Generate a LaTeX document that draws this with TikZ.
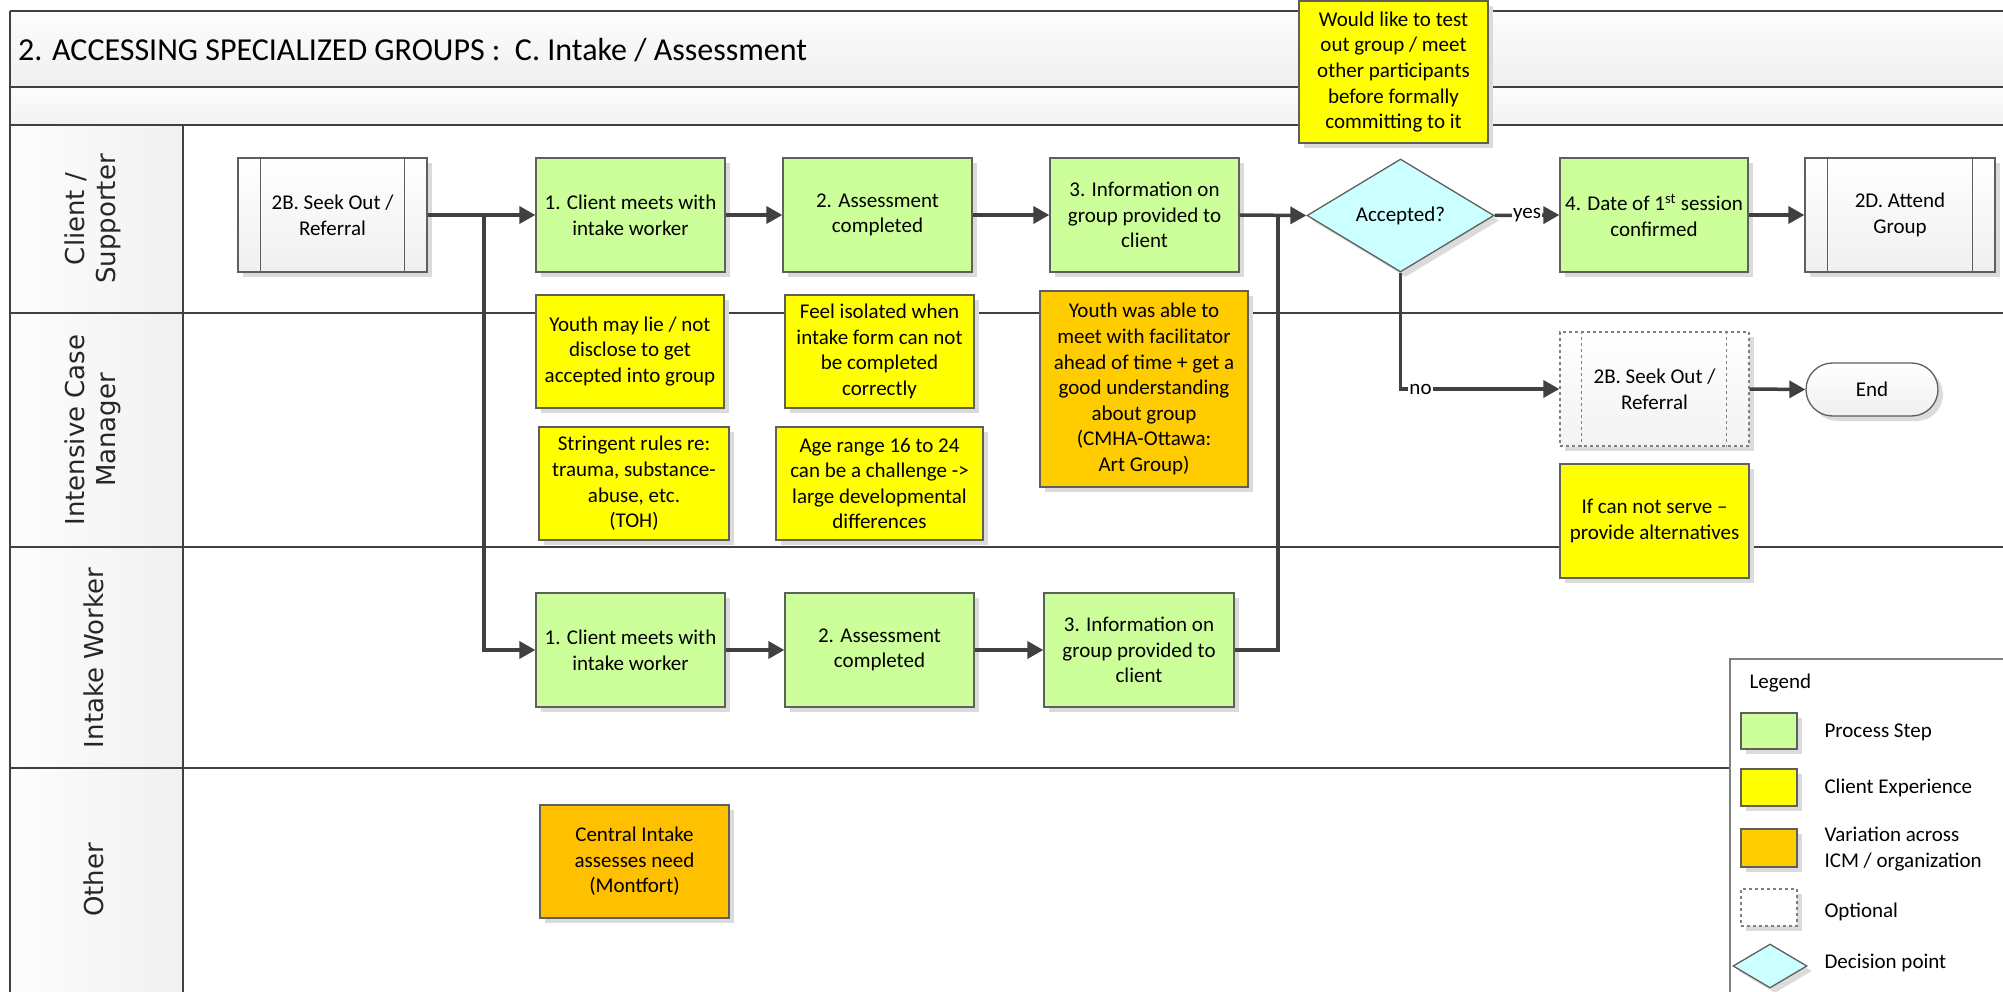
\documentclass[tikz,border=0pt]{standalone}
\usepackage{fontspec}
\setmainfont{Carlito}
\newfontfamily\lanefont{DejaVu Sans}
\usetikzlibrary{arrows.meta,shapes.geometric,shapes.misc,shadows}
\definecolor{lgreen}{HTML}{CCFF99}
\definecolor{yel}{HTML}{FFFF00}
\definecolor{orng}{HTML}{FFCC00}
\definecolor{orng2}{HTML}{FFC000}
\definecolor{cyn}{HTML}{CCFFFF}
\definecolor{lnc}{HTML}{404040}
\definecolor{bdc}{HTML}{5F5F5F}
\tikzset{
  shad/.style={drop shadow={shadow xshift=5pt, shadow yshift=-5pt, fill=black!14, opacity=1}},
  base/.style={draw=bdc, line width=1.3pt, align=center, inner sep=0pt, shad,
    font=\fontsize{21}{25.6}\selectfont, minimum width=189pt, minimum height=114pt},
  proc/.style={base, fill=lgreen},
  note/.style={base, fill=yel},
  vari/.style={base, fill=orng},
  subp/.style={base, top color=white, bottom color=gray!12},
  optp/.style={base, dashed, draw=gray, top color=white, bottom color=gray!10},
  decis/.style={base, diamond, fill=cyn, minimum width=187pt, minimum height=113pt},
  conn/.style={draw=lnc, line width=3.5pt, -{Triangle[length=16pt,width=17pt]}},
  wire/.style={draw=lnc, line width=3.5pt},
  lane/.style={draw=lnc, line width=2.5pt},
  lbl/.style={fill=white, inner sep=1pt, font=\fontsize{21}{25}\selectfont},
  lanelbl/.style={rotate=90, align=center, font=\lanefont\fontsize{26}{31}\selectfont, text=black!85},
  legtxt/.style={anchor=west, align=left, font=\fontsize{21}{25.6}\selectfont},
  inner/.style={draw=bdc, line width=1.2pt}
}
\begin{document}
\begin{tikzpicture}[x=1pt,y=-1pt]
\useasboundingbox (0,0) rectangle (2003,992);
\clip (0,0) rectangle (2003,992);
% bands and header column
\fill[top color=gray!2, bottom color=gray!12] (10,11) rectangle (2010,87);
\fill[top color=gray!2, bottom color=gray!10] (10,87) rectangle (2010,125);
\fill[left color=gray!2, right color=gray!11] (10,125) rectangle (183,1000);
% lane lines
\draw[lane] (10,11) -- (2010,11);
\draw[lane] (10,87) -- (2010,87);
\draw[lane] (10,125) -- (2010,125);
\draw[lane] (10,313) -- (2010,313);
\draw[lane] (10,547) -- (2010,547);
\draw[lane] (10,768) -- (2010,768);
\draw[lane] (10,11) -- (10,1000);
\draw[draw=lnc, line width=1.5pt] (183,125) -- (183,1000);
% title
\node[anchor=west, font=\fontsize{32}{38}\selectfont, inner sep=0pt] (title) at (18,50) {2. ACCESSING SPECIALIZED GROUPS :~ C. Intake / Assessment};
% lane labels
\node[lanelbl] (lcs) at (93,219) {Client /\\Supporter};
\node[lanelbl] (licm) at (93,430) {Intensive Case\\Manager};
\node[lanelbl] (liw) at (94,658) {Intake Worker};
\node[lanelbl] (loth) at (94,880) {Other};
% client row
\node[subp] (seek) at (332.5,215) {2B. Seek Out /\\Referral};
\draw[inner] ([xshift=23pt]seek.north west) -- ([xshift=23pt]seek.south west);
\draw[inner] ([xshift=-23pt]seek.north east) -- ([xshift=-23pt]seek.south east);
\node[proc] (cmeet) at (630.5,215) {1. Client meets with\\intake worker};
\node[proc] (assess) at (877.5,215) {2. Assessment\\completed};
\node[proc] (info) at (1144.5,215) {3. Information on\\group provided to\\client};
\node[decis] (dec) at (1400.5,215.5) {Accepted?};
\node[proc, minimum width=188pt] (date) at (1654,215) {4. Date of 1\textsuperscript{st} session\\confirmed};
\node[subp, minimum width=190pt] (attend) at (1900,215) {2D. Attend\\Group};
\draw[inner] ([xshift=23pt]attend.north west) -- ([xshift=23pt]attend.south west);
\draw[inner] ([xshift=-23pt]attend.north east) -- ([xshift=-23pt]attend.south east);
\node[note, minimum height=142pt] (would) at (1393.5,72) {Would like to test\\out group / meet\\other participants\\before formally\\committing to it};
% ICM row
\node[note, minimum width=188pt, minimum height=113pt] (ylie) at (630,351.5) {Youth may lie / not\\disclose to get\\accepted into group};
\node[note, minimum height=113pt] (fiso) at (879.5,351.5) {Feel isolated when\\intake form can not\\be completed\\correctly};
\node[vari, minimum width=208pt, minimum height=196pt] (yable) at (1144,389) {Youth was able to\\meet with facilitator\\ahead of time + get a\\good understanding\\about group\\(CMHA-Ottawa:\\Art Group)};
\node[note, minimum width=190pt, minimum height=113pt] (strg) at (634,483.5) {Stringent rules re:\\trauma, substance-\\abuse, etc.\\(TOH)};
\node[note, minimum width=207pt, minimum height=113pt] (age) at (879.5,483.5) {Age range 16 to 24\\can be a challenge ->\\large developmental\\differences};
\node[optp] (opt) at (1654.5,389) {2B. Seek Out /\\Referral};
\draw[inner, dashed, draw=gray] ([xshift=22pt]opt.north west) -- ([xshift=22pt]opt.south west);
\draw[inner, dashed, draw=gray] ([xshift=-23pt]opt.north east) -- ([xshift=-23pt]opt.south east);
\node[base, rounded rectangle, top color=white, bottom color=gray!12, minimum width=132pt, minimum height=53pt] (endn) at (1872,389.5) {End};
\node[note] (ifcan) at (1654.5,521) {If can not serve –\\provide alternatives};
% intake worker row
\node[proc] (icmeet) at (630.5,650) {1. Client meets with\\intake worker};
\node[proc] (iassess) at (879.5,650) {2. Assessment\\completed};
\node[proc, minimum width=190pt] (iinfo) at (1139,650) {3. Information on\\group provided to\\client};
% other row
\node[base, fill=orng2, minimum height=113pt] (central) at (634.5,861.5) {Central Intake\\assesses need\\(Montfort)};
% connectors
\coordinate (j1) at (484,215);
\coordinate (j2) at (1278,215);
\draw[conn] (seek.east) -- (cmeet.west);
\draw[conn] (j1) |- (icmeet.west);
\draw[conn] (cmeet.east) -- (assess.west);
\draw[conn] (assess.east) -- (info.west);
\draw[conn] (info.east) -- (dec.west);
\draw[wire] (iinfo.east) -| (j2);
\draw[conn] (icmeet.east) -- (iassess.west);
\draw[conn] (iassess.east) -- (iinfo.west);
\draw[conn] (dec.east) -- node[lbl, pos=0.5] (yes) {yes} (date.west);
\draw[conn] (dec.south) |- node[lbl, pos=0.563] (no) {no} (opt.west);
\draw[conn] (date.east) -- (attend.west);
\draw[conn] (opt.east) -- (endn.west);
% legend
\draw[draw=gray, line width=1.3pt, fill=white] (1730,659) rectangle (2020,1010);
\node[legtxt] (legt) at (1746,683) {Legend};
\node[proc, minimum width=56pt, minimum height=36pt] (lg1) at (1769,731) {};
\node[legtxt] (lt1) at (1821,732) {Process Step};
\node[note, minimum width=56pt, minimum height=37pt] (lg2) at (1769,787.5) {};
\node[legtxt] (lt2) at (1821,788) {Client Experience};
\node[vari, minimum width=56pt, minimum height=38pt] (lg3) at (1769,848) {};
\node[legtxt] (lt3) at (1821,849) {Variation across\\ICM / organization};
\node[base, dashed, draw=gray, fill=white, minimum width=56pt, minimum height=37pt, drop shadow={opacity=0}] (lg4) at (1769,907.5) {};
\node[legtxt] (lt4) at (1821,912) {Optional};
\node[base, diamond, fill=cyn, minimum width=74pt, minimum height=44pt] (lg5) at (1770,966) {};
\node[legtxt] (lt5) at (1821,963) {Decision point};
\end{tikzpicture}
\end{document}
